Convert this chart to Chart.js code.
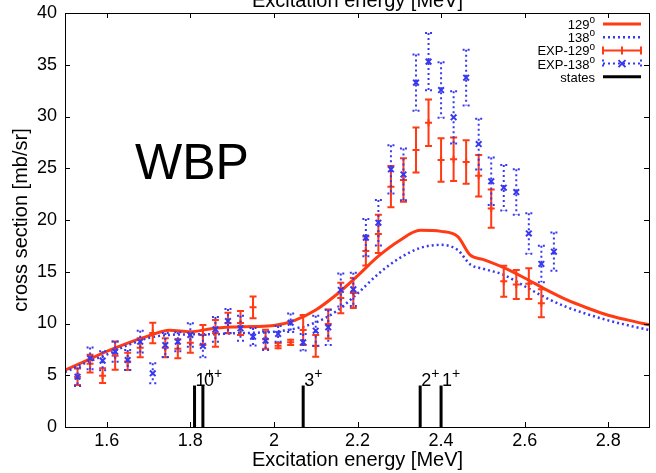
<!DOCTYPE html>
<html>
<head>
<meta charset="utf-8">
<script src="https://cdn.jsdelivr.net/npm/chart.js@4.4.1/dist/chart.umd.min.js"></script>
<style>
  html, body { margin: 0; padding: 0; background: #fff; }
</style>
</head>
<body>
<canvas id="chart" width="656" height="473"></canvas>
<script>
// calculated cross sections (WBP)
const calcEnergy = [1.50, 1.55, 1.60, 1.65, 1.70, 1.75, 1.80, 1.85, 1.90, 1.95, 2.00, 2.05, 2.10, 2.15, 2.20, 2.25, 2.30, 2.35, 2.40, 2.44, 2.47, 2.50, 2.55, 2.60, 2.65, 2.70, 2.75, 2.80, 2.85, 2.90];
const calc129 = [5.5, 6.4, 7.3, 8.1, 8.8, 9.35, 9.2, 9.5, 9.65, 9.7, 9.8, 10.3, 11.3, 12.8, 14.6, 16.5, 18.0, 19.0, 18.9, 18.4, 16.6, 16.2, 15.4, 14.4, 13.3, 12.3, 11.5, 10.8, 10.3, 9.85];
const calc138 = [5.3, 6.2, 7.0, 7.9, 8.6, 8.9, 8.95, 8.95, 9.05, 9.1, 9.2, 9.5, 10.1, 11.2, 12.9, 14.8, 16.3, 17.3, 17.6, 17.1, 15.7, 15.3, 14.7, 13.6, 12.5, 11.6, 10.9, 10.3, 9.8, 9.35];

// measured points
const expEnergy = [1.53, 1.56, 1.59, 1.62, 1.65, 1.68, 1.71, 1.74, 1.77, 1.80, 1.83, 1.86, 1.89, 1.92, 1.95, 1.98, 2.01, 2.04, 2.07, 2.10, 2.13, 2.16, 2.19, 2.22, 2.25, 2.28, 2.31, 2.34, 2.37, 2.40, 2.43, 2.46, 2.49, 2.52, 2.55, 2.58, 2.61, 2.64, 2.67];
const exp129 = [4.86, 6.12, 4.96, 6.89, 6.34, 7.66, 9.08, 7.66, 7.57, 8.15, 8.89, 9.05, 10.05, 10.05, 11.56, 8.47, 7.86, 8.18, 9.37, 7.83, 9.95, 12.46, 12.95, 17.0, 18.65, 23.22, 23.86, 26.76, 29.4, 25.8, 25.86, 25.6, 24.28, 21.1, 14.09, 13.77, 13.85, 11.95];
const exp129Err = [0.8, 0.85, 0.72, 1.37, 0.84, 0.92, 1.0, 0.92, 0.92, 0.97, 0.97, 1.29, 1.0, 1.15, 1.05, 0.92, 0.25, 0.25, 1.45, 1.05, 1.4, 1.48, 1.45, 1.4, 1.85, 2.0, 2.1, 2.17, 2.25, 2.1, 2.1, 2.1, 2.0, 1.85, 1.5, 1.4, 1.48, 1.35];
const exp138 = [4.86, 6.64, 6.41, 7.28, 6.47, 8.24, 5.19, 7.92, 8.24, 8.89, 7.83, 9.44, 10.24, 9.54, 8.72, 8.34, 8.99, 10.08, 8.18, 9.30, 9.63, 13.24, 13.30, 18.3, 19.74, 24.9, 24.4, 33.27, 35.3, 32.56, 29.92, 33.75, 27.34, 23.74, 23.12, 22.7, 18.7, 15.75, 16.94];
const exp138Err = [0.9, 1.05, 0.92, 0.97, 0.97, 1.05, 0.97, 1.16, 0.92, 1.13, 1.08, 1.2, 1.16, 1.2, 0.85, 0.89, 0.76, 0.89, 0.8, 1.45, 1.7, 1.6, 1.6, 1.8, 2.2, 2.33, 2.5, 2.72, 2.77, 2.69, 2.53, 2.69, 2.45, 2.3, 2.2, 2.2, 1.96, 1.77, 1.85];

// known levels
const stateEnergy = [1.81, 1.83, 2.07, 2.35, 2.40];
const stateName = ['1', '0', '3', '2', '1'];
const stateHeight = 4;

const xTicks = [1.6, 1.8, 2.0, 2.2, 2.4, 2.6, 2.8];
const yTicks = [0, 5, 10, 15, 20, 25, 30, 35, 40];

const FONT = '"Liberation Sans", Arial, Helvetica, sans-serif';
const RED = '#ff3a14';
const BLUE = '#3838f0';

function toPoints(xs, ys) {
    return ys.map((y, i) => ({ x: xs[i], y: y }));
}

// text with a raised suffix, e.g. 129 + "o"
function supText(ctx, base, sup, x, y, size, supSize, align) {
    ctx.font = `${size}px ${FONT}`;
    const bw = ctx.measureText(base).width;
    ctx.font = `${supSize}px ${FONT}`;
    const sw = ctx.measureText(sup).width;
    const left = align === 'right' ? x - bw - sw : x;
    ctx.textAlign = 'left';
    ctx.textBaseline = 'alphabetic';
    ctx.font = `${size}px ${FONT}`;
    ctx.fillText(base, left, y);
    ctx.font = `${supSize}px ${FONT}`;
    ctx.fillText(sup, left + bw, y - size * 0.45);
}

function drawBars(chart, values, errs, color, dotted) {
    const ctx = chart.ctx;
    const xs = chart.scales.x;
    const ys = chart.scales.y;
    ctx.save();
    ctx.strokeStyle = color;
    ctx.lineWidth = 2;
    ctx.setLineDash(dotted ? [2, 3] : []);
    values.forEach((v, i) => {
        const px = xs.getPixelForValue(expEnergy[i]);
        const top = ys.getPixelForValue(v + errs[i]);
        const bot = ys.getPixelForValue(v - errs[i]);
        ctx.beginPath();
        ctx.moveTo(px, top);
        ctx.lineTo(px, bot);
        ctx.moveTo(px - 3.5, top);
        ctx.lineTo(px + 3.5, top);
        ctx.moveTo(px - 3.5, bot);
        ctx.lineTo(px + 3.5, bot);
        ctx.stroke();
    });
    ctx.restore();
}

const decorations = {
    id: 'decorations',
    beforeDatasetDraw(chart, args) {
        if (args.index === 2) drawBars(chart, exp129, exp129Err, RED, false);
        if (args.index === 3) drawBars(chart, exp138, exp138Err, BLUE, true);
    },
    afterDraw(chart) {
        const ctx = chart.ctx;
        const area = chart.chartArea;
        const xs = chart.scales.x;
        const ys = chart.scales.y;
        ctx.save();

        // frame and inward ticks on all four sides
        ctx.strokeStyle = '#000';
        ctx.lineWidth = 1;
        ctx.strokeRect(area.left + 0.5, area.top + 0.5, area.right - area.left - 1, area.bottom - area.top);
        ctx.beginPath();
        xTicks.forEach(v => {
            const px = Math.round(xs.getPixelForValue(v)) + 0.5;
            ctx.moveTo(px, area.bottom);
            ctx.lineTo(px, area.bottom - 5);
            ctx.moveTo(px, area.top);
            ctx.lineTo(px, area.top + 5);
        });
        yTicks.forEach(v => {
            const py = Math.round(ys.getPixelForValue(v)) + 0.5;
            ctx.moveTo(area.left, py);
            ctx.lineTo(area.left + 5, py);
            ctx.moveTo(area.right, py);
            ctx.lineTo(area.right - 6, py);
        });
        ctx.stroke();

        // top axis title, cut by the image edge
        ctx.fillStyle = '#000';
        ctx.font = `20px ${FONT}`;
        ctx.textAlign = 'center';
        ctx.textBaseline = 'alphabetic';
        ctx.fillText('Excitation energy [MeV]', (area.left + area.right) / 2, 7);

        // model name
        ctx.font = `50px ${FONT}`;
        ctx.textBaseline = 'middle';
        ctx.fillText('WBP', 192, 165);

        // level labels
        stateEnergy.forEach((e, i) => {
            const px = xs.getPixelForValue(e);
            const py = ys.getPixelForValue(stateHeight);
            supText(ctx, stateName[i], '+', px + 1, py, 18, 14, 'left');
        });

        // legend
        const rows = [
            { text: '129', sup: 'o', kind: 'c129' },
            { text: '138', sup: 'o', kind: 'c138' },
            { text: 'EXP-129', sup: 'o', kind: 'e129' },
            { text: 'EXP-138', sup: 'o', kind: 'e138' },
            { text: 'states', sup: '', kind: 'st' },
        ];
        const x0 = 603, x1 = 641;
        rows.forEach((r, i) => {
            const y = 24 + i * 13.2;
            ctx.fillStyle = '#000';
            if (r.sup) supText(ctx, r.text, r.sup, 595, y + 5, 13, 10, 'right');
            else {
                ctx.font = `13px ${FONT}`;
                ctx.textAlign = 'right';
                ctx.textBaseline = 'alphabetic';
                ctx.fillText(r.text, 595, y + 5);
            }
            ctx.beginPath();
            ctx.setLineDash([]);
            if (r.kind === 'c129') {
                ctx.strokeStyle = RED; ctx.lineWidth = 3;
                ctx.moveTo(x0, y); ctx.lineTo(x1, y);
            } else if (r.kind === 'c138') {
                ctx.strokeStyle = BLUE; ctx.lineWidth = 2.5; ctx.setLineDash([2, 3]);
                ctx.moveTo(x0, y); ctx.lineTo(x1, y);
            } else if (r.kind === 'e129') {
                ctx.strokeStyle = RED; ctx.lineWidth = 2;
                ctx.moveTo(x0, y); ctx.lineTo(x1, y);
                ctx.moveTo(x0, y - 4); ctx.lineTo(x0, y + 4);
                ctx.moveTo(x1, y - 4); ctx.lineTo(x1, y + 4);
                ctx.moveTo(622, y - 4); ctx.lineTo(622, y + 4);
            } else if (r.kind === 'e138') {
                ctx.strokeStyle = BLUE; ctx.lineWidth = 2; ctx.setLineDash([2, 3]);
                ctx.moveTo(x0, y); ctx.lineTo(x1, y);
                ctx.moveTo(x0, y - 4); ctx.lineTo(x0, y + 4);
                ctx.moveTo(x1, y - 4); ctx.lineTo(x1, y + 4);
                ctx.stroke();
                ctx.beginPath();
                ctx.setLineDash([]);
                ctx.moveTo(618.5, y - 3.5); ctx.lineTo(625.5, y + 3.5);
                ctx.moveTo(618.5, y + 3.5); ctx.lineTo(625.5, y - 3.5);
            } else {
                ctx.strokeStyle = '#000'; ctx.lineWidth = 3;
                ctx.moveTo(x0, y); ctx.lineTo(x1, y);
            }
            ctx.stroke();
        });
        ctx.restore();
    },
};

const stateLines = stateEnergy.flatMap(e => [
    { x: e, y: 0 },
    { x: e, y: stateHeight },
    { x: e, y: null },
]);

new Chart(document.getElementById('chart'), {
    type: 'line',
    data: {
        datasets: [
            {
                label: '129o',
                data: toPoints(calcEnergy, calc129),
                borderColor: RED,
                borderWidth: 3,
                pointRadius: 0,
                cubicInterpolationMode: 'monotone',
                order: 5,
            },
            {
                label: '138o',
                data: toPoints(calcEnergy, calc138),
                borderColor: BLUE,
                borderWidth: 2.5,
                borderDash: [2, 3],
                pointRadius: 0,
                cubicInterpolationMode: 'monotone',
                order: 4,
            },
            {
                label: 'EXP-129o',
                data: toPoints(expEnergy, exp129),
                showLine: false,
                pointStyle: 'cross',
                pointRadius: 3.5,
                borderColor: RED,
                borderWidth: 2,
                order: 3,
            },
            {
                label: 'EXP-138o',
                data: toPoints(expEnergy, exp138),
                showLine: false,
                pointStyle: 'crossRot',
                pointRadius: 4,
                borderColor: BLUE,
                borderWidth: 2,
                order: 2,
            },
            {
                label: 'states',
                data: stateLines,
                borderColor: '#000',
                borderWidth: 3,
                pointRadius: 0,
                spanGaps: false,
                order: 1,
            },
        ],
    },
    options: {
        responsive: false,
        animation: false,
        events: [],
        layout: { padding: { top: 13, right: 0, left: 0, bottom: 0 } },
        plugins: {
            legend: { display: false },
            tooltip: { enabled: false },
        },
        scales: {
            x: {
                type: 'linear',
                min: 1.5,
                max: 2.9,
                afterBuildTicks: scale => { scale.ticks = xTicks.map(v => ({ value: v })); },
                afterFit: scale => {
                    scale.height = 46;
                    scale.paddingLeft = 0;
                    scale.paddingRight = 0;
                },
                grid: { display: false, drawTicks: false },
                border: { display: false },
                ticks: {
                    padding: 3,
                    color: '#000',
                    font: { family: FONT, size: 18 },
                    maxRotation: 0,
                    callback: v => String(Math.round(v * 10) / 10),
                },
                title: {
                    display: true,
                    text: 'Excitation energy [MeV]',
                    color: '#000',
                    font: { family: FONT, size: 20 },
                    padding: { top: 0, bottom: 1 },
                },
            },
            y: {
                min: 0,
                max: 40,
                afterBuildTicks: scale => { scale.ticks = yTicks.map(v => ({ value: v })); },
                afterFit: scale => {
                    scale.width = 65;
                    scale.paddingTop = 0;
                    scale.paddingBottom = 0;
                },
                grid: { display: false, drawTicks: false },
                border: { display: false },
                ticks: {
                    padding: 8,
                    color: '#000',
                    font: { family: FONT, size: 18 },
                },
                title: {
                    display: true,
                    text: 'cross section [mb/sr]',
                    color: '#000',
                    font: { family: FONT, size: 20 },
                    padding: { top: 9, bottom: 0 },
                },
            },
        },
    },
    plugins: [decorations],
});
</script>
</body>
</html>
